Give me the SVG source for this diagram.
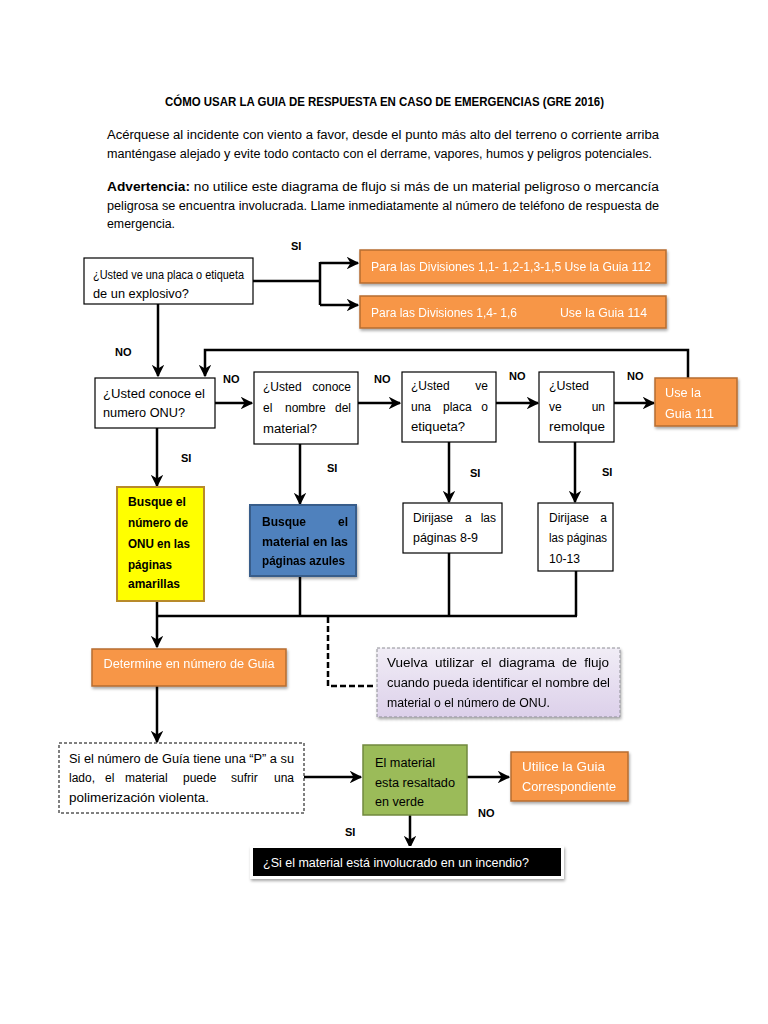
<svg xmlns="http://www.w3.org/2000/svg" width="768" height="1024" viewBox="0 0 768 1024">
<defs>
<marker id="ah" viewBox="0 0 10 10" refX="9" refY="5" markerWidth="5" markerHeight="5" orient="auto" markerUnits="strokeWidth">
<path d="M0,0 L10,5 L0,10 L3,5 z" fill="#000"/>
</marker>
<filter id="sh" x="-10%" y="-20%" width="120%" height="160%">
<feGaussianBlur in="SourceAlpha" stdDeviation="1.5"/>
<feOffset dx="1" dy="2" result="b"/>
<feComponentTransfer><feFuncA type="linear" slope="0.35"/></feComponentTransfer>
<feMerge><feMergeNode/><feMergeNode in="SourceGraphic"/></feMerge>
</filter>
<linearGradient id="pg" x1="0" y1="0" x2="0" y2="1">
<stop offset="0" stop-color="#F1EDF6"/>
<stop offset="1" stop-color="#DCD0EA"/>
</linearGradient>
</defs>
<style>
text{font-family:"Liberation Sans",Arial,sans-serif;font-size:12px;fill:#000}
.t{font-weight:bold;font-size:12px}
.w{fill:#fff}
.b{font-weight:bold}
.lbl{font-weight:bold;font-size:11px}
.box{fill:#fff;stroke:#000;stroke-width:1.2}
.or{fill:#F79646;stroke:#B66D31;stroke-width:1.5}
.c{fill:none;stroke:#000;stroke-width:2.5}
.ar{marker-end:url(#ah)}
.d{fill:none;stroke:#000;stroke-width:2.5;stroke-dasharray:6,3}
</style>
<rect width="768" height="1024" fill="#fff"/>

<g id="header">
<text class="t" x="165" y="106" textLength="439" lengthAdjust="spacingAndGlyphs">CÓMO USAR LA GUIA DE RESPUESTA EN CASO DE EMERGENCIAS (GRE 2016)</text>
<text x="107" y="139" textLength="552" lengthAdjust="spacingAndGlyphs">Acérquese al incidente con viento a favor, desde el punto más alto del terreno o corriente arriba</text>
<text x="107" y="158" textLength="545" lengthAdjust="spacingAndGlyphs">manténgase alejado y evite todo contacto con el derrame, vapores, humos y peligros potenciales.</text>
<text x="107" y="191" textLength="552" lengthAdjust="spacingAndGlyphs"><tspan class="b">Advertencia:</tspan> no utilice este diagrama de flujo si más de un material peligroso o mercancía</text>
<text x="107" y="210" textLength="552" lengthAdjust="spacingAndGlyphs">peligrosa se encuentra involucrada. Llame inmediatamente al número de teléfono de respuesta de</text>
<text x="107" y="228" textLength="68" lengthAdjust="spacingAndGlyphs">emergencia.</text>
</g>

<g id="connectors">
<path class="c" d="M253,281 H320 M320,262 V305"/>
<path class="c ar" d="M320,263 H358"/>
<path class="c ar" d="M320,305 H358"/>
<path class="c ar" d="M158,304 V376"/>
<path class="c ar" d="M688,378 V350 H205 V376"/>
<path class="c ar" d="M215,403 H252"/>
<path class="c ar" d="M358,403 H400"/>
<path class="c ar" d="M496,403 H538"/>
<path class="c ar" d="M614,403 H654"/>
<path class="c ar" d="M157,428 V486"/>
<path class="c ar" d="M300,444 V504"/>
<path class="c ar" d="M449,442 V502"/>
<path class="c ar" d="M575,442 V502"/>
<path class="c" d="M300,576 V616 M449,553 V616 M576,571 V616 M157,616 H577"/>
<path class="c ar" d="M157,601 V647"/>
<path class="d" d="M328,617 V686 H376"/>
<path class="c ar" d="M157,686 V742"/>
<path class="c ar" d="M304,777 H361"/>
<path class="c ar" d="M467,777 H509"/>
<path class="c ar" d="M410,815 V847"/>
<text class="lbl" x="291" y="250">SI</text>
<text class="lbl" x="115" y="356">NO</text>
<text class="lbl" x="223" y="383">NO</text>
<text class="lbl" x="374" y="383">NO</text>
<text class="lbl" x="509" y="380">NO</text>
<text class="lbl" x="627" y="380">NO</text>
<text class="lbl" x="181" y="462">SI</text>
<text class="lbl" x="327" y="472">SI</text>
<text class="lbl" x="470" y="477">SI</text>
<text class="lbl" x="602" y="476">SI</text>
<text class="lbl" x="478" y="817">NO</text>
<text class="lbl" x="345" y="836">SI</text>
</g>

<g id="q-explosivo">
<rect class="box" x="84" y="258" width="169" height="46"/>
<text x="93" y="279" textLength="151" lengthAdjust="spacingAndGlyphs">¿Usted ve una placa o etiqueta</text>
<text x="93" y="298" textLength="96" lengthAdjust="spacingAndGlyphs">de un explosivo?</text>
</g>

<g id="guia112" filter="url(#sh)">
<rect class="or" x="360" y="250" width="306" height="33"/>
<text class="w" x="371" y="271" textLength="280" lengthAdjust="spacingAndGlyphs">Para las Divisiones 1,1- 1,2-1,3-1,5 Use la Guia 112</text>
</g>

<g id="guia114" filter="url(#sh)">
<rect class="or" x="360" y="296" width="306" height="32"/>
<text class="w" x="371" y="317" textLength="146" lengthAdjust="spacingAndGlyphs">Para las Divisiones 1,4- 1,6</text>
<text class="w" x="560" y="317" textLength="87" lengthAdjust="spacingAndGlyphs">Use la Guia 114</text>
</g>

<g id="q-onu">
<rect class="box" x="95" y="378" width="120" height="50"/>
<text x="103" y="398" textLength="102" lengthAdjust="spacingAndGlyphs">¿Usted conoce el</text>
<text x="103" y="417" textLength="82" lengthAdjust="spacingAndGlyphs">numero ONU?</text>
</g>

<g id="q-nombre">
<rect class="box" x="254" y="372" width="104" height="72"/>
<text y="391"><tspan x="263">¿Usted</tspan><tspan x="351" text-anchor="end">conoce</tspan></text>
<text y="412"><tspan x="263">el</tspan><tspan x="285">nombre</tspan><tspan x="351" text-anchor="end">del</tspan></text>
<text x="263" y="433" textLength="54" lengthAdjust="spacingAndGlyphs">material?</text>
</g>

<g id="q-placa">
<rect class="box" x="402" y="372" width="94" height="70"/>
<text y="390"><tspan x="411">¿Usted</tspan><tspan x="488" text-anchor="end">ve</tspan></text>
<text y="411"><tspan x="411">una</tspan><tspan x="443">placa</tspan><tspan x="488" text-anchor="end">o</tspan></text>
<text x="411" y="431" textLength="54" lengthAdjust="spacingAndGlyphs">etiqueta?</text>
</g>

<g id="q-remolque">
<rect class="box" x="539" y="372" width="75" height="70"/>
<text x="549" y="390" textLength="40" lengthAdjust="spacingAndGlyphs">¿Usted</text>
<text y="411"><tspan x="549">ve</tspan><tspan x="605" text-anchor="end">un</tspan></text>
<text x="549" y="431" textLength="56" lengthAdjust="spacingAndGlyphs">remolque</text>
</g>

<g id="guia111" filter="url(#sh)">
<rect class="or" x="655" y="378" width="82" height="48"/>
<text class="w" x="665" y="397" textLength="36" lengthAdjust="spacingAndGlyphs">Use la</text>
<text class="w" x="665" y="418" textLength="49" lengthAdjust="spacingAndGlyphs">Guia 111</text>
</g>

<g id="amarillas">
<rect x="117" y="487" width="87" height="114" fill="#FFFF00" stroke="#B88A2A" stroke-width="2"/>
<text class="b" x="128" y="506" textLength="58" lengthAdjust="spacingAndGlyphs">Busque el</text>
<text class="b" x="128" y="527" textLength="60" lengthAdjust="spacingAndGlyphs">número de</text>
<text class="b" x="128" y="548" textLength="62" lengthAdjust="spacingAndGlyphs">ONU en las</text>
<text class="b" x="128" y="569" textLength="44" lengthAdjust="spacingAndGlyphs">páginas</text>
<text class="b" x="128" y="588" textLength="52" lengthAdjust="spacingAndGlyphs">amarillas</text>
</g>

<g id="azules" filter="url(#sh)">
<rect x="250" y="505" width="106" height="71" fill="#4F81BD" stroke="#385D8A" stroke-width="2"/>
<text class="b" y="526"><tspan x="262">Busque</tspan><tspan x="348" text-anchor="end">el</tspan></text>
<text class="b" x="262" y="546" textLength="86" lengthAdjust="spacingAndGlyphs">material en las</text>
<text class="b" x="262" y="565" textLength="83" lengthAdjust="spacingAndGlyphs">páginas azules</text>
</g>

<g id="pag8-9">
<rect class="box" x="403" y="503" width="99" height="50"/>
<text y="522"><tspan x="413">Dirijase</tspan><tspan x="465">a</tspan><tspan x="496" text-anchor="end">las</tspan></text>
<text x="413" y="542" textLength="65" lengthAdjust="spacingAndGlyphs">páginas 8-9</text>
</g>

<g id="pag10-13">
<rect class="box" x="538" y="503" width="75" height="68"/>
<text y="522"><tspan x="549">Dirijase</tspan><tspan x="607" text-anchor="end">a</tspan></text>
<text x="549" y="542" textLength="58" lengthAdjust="spacingAndGlyphs">las páginas</text>
<text x="549" y="563" textLength="31" lengthAdjust="spacingAndGlyphs">10-13</text>
</g>

<g id="determine" filter="url(#sh)">
<rect class="or" x="92" y="649" width="194" height="37"/>
<text class="w" x="189" y="668" text-anchor="middle" textLength="171" lengthAdjust="spacingAndGlyphs">Determine en número de Guia</text>
</g>

<g id="vuelva" filter="url(#sh)">
<rect x="377" y="648" width="243" height="69" fill="url(#pg)" stroke="#8E8E96" stroke-width="1" stroke-dasharray="3,2"/>
<text x="387" y="667" textLength="222" lengthAdjust="spacingAndGlyphs" word-spacing="3">Vuelva utilizar el diagrama de flujo</text>
<text x="387" y="687" textLength="223" lengthAdjust="spacingAndGlyphs">cuando pueda identificar el nombre del</text>
<text x="387" y="707" textLength="163" lengthAdjust="spacingAndGlyphs">material o el número de ONU.</text>
</g>

<g id="polimerizacion">
<rect x="59" y="743" width="245" height="70" fill="#fff" stroke="#000" stroke-width="1" stroke-dasharray="3,2"/>
<text x="69" y="763" textLength="225" lengthAdjust="spacingAndGlyphs">Si el número de Guía tiene una “P” a su</text>
<text y="782"><tspan x="69">lado,</tspan><tspan x="105">el</tspan><tspan x="125">material</tspan><tspan x="183">puede</tspan><tspan x="231">sufrir</tspan><tspan x="294" text-anchor="end">una</tspan></text>
<text x="69" y="802" textLength="140" lengthAdjust="spacingAndGlyphs">polimerización violenta.</text>
</g>

<g id="verde">
<rect x="363" y="745" width="104" height="70" fill="#9BBB59" stroke="#71893F" stroke-width="1.5"/>
<text x="375" y="767" textLength="60" lengthAdjust="spacingAndGlyphs">El material</text>
<text x="375" y="787" textLength="80" lengthAdjust="spacingAndGlyphs">esta resaltado</text>
<text x="375" y="806" textLength="49" lengthAdjust="spacingAndGlyphs">en verde</text>
</g>

<g id="correspondiente" filter="url(#sh)">
<rect class="or" x="511" y="752" width="117" height="49"/>
<text class="w" x="522" y="771" textLength="83" lengthAdjust="spacingAndGlyphs">Utilice la Guia</text>
<text class="w" x="522" y="791" textLength="94" lengthAdjust="spacingAndGlyphs">Correspondiente</text>
</g>

<g id="incendio">
<rect x="250" y="846" width="314" height="33" fill="#fff" filter="url(#sh)"/>
<rect x="253" y="848" width="308" height="28" fill="#000"/>
<text class="w" x="263" y="867" textLength="266" lengthAdjust="spacingAndGlyphs">¿Si el material está involucrado en un incendio?</text>
</g>
</svg>
